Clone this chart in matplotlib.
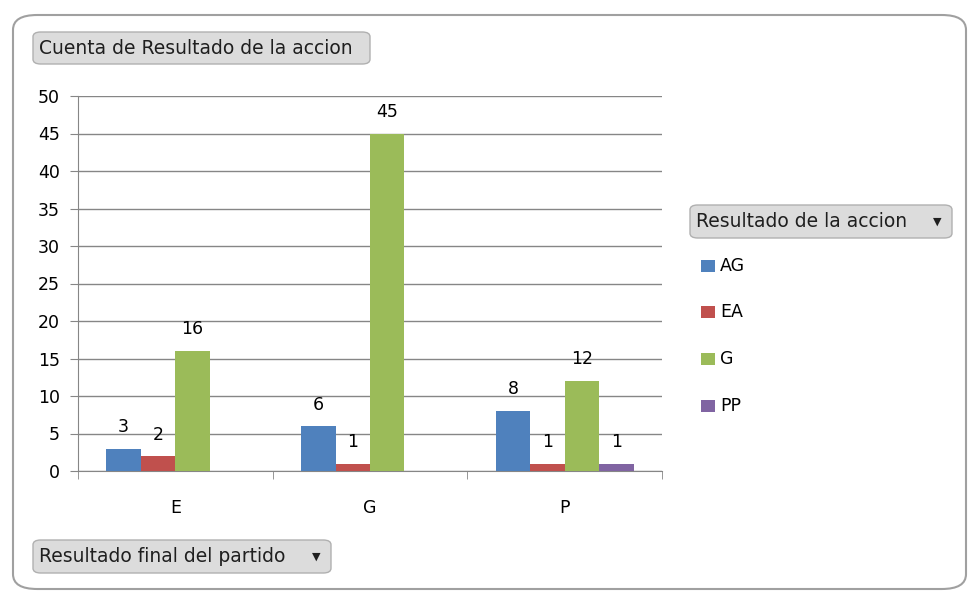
import numpy as np
import matplotlib
matplotlib.use("Agg")
import matplotlib.pyplot as plt
from matplotlib.patches import FancyBboxPatch, Rectangle

plt.rcParams['font.family'] = ['DejaVu Sans']

# data
categories = ["E", "G", "P"]
series = ["AG", "EA", "G", "PP"]
AG = [3, 6, 8]
EA = [2, 1, 1]
G = [16, 45, 12]
PP = [None, None, 1]
colors = ["#4F81BD", "#C0504D", "#9BBB59", "#8064A2"]
yticks = list(range(0, 55, 5))

W, H = 971, 594
fig = plt.figure(figsize=(W / 100, H / 100), dpi=100)

def fx(px):
    return px / W

def fy(py):
    return 1 - py / H

FS = 12.5
FSB = 13.5

# outer chart frame
frame = FancyBboxPatch((fx(13), fy(589)), fx(953), fy(15) - fy(589),
                       boxstyle="round,pad=0,rounding_size=0.025",
                       transform=fig.transFigure, facecolor="white",
                       edgecolor="#a0a0a0", linewidth=1.5, zorder=0)
fig.patches.append(frame)

ax = fig.add_axes([fx(78), fy(471), fx(662) - fx(78), fy(96) - fy(471)])
ax.set_zorder(2)
ax.set_facecolor("none")

x = np.arange(len(categories))
w = 0.177
vals = [AG, EA, G, PP]
for i, (name, v, c) in enumerate(zip(series, vals, colors)):
    pos = x + (i - 1.5) * w
    for p, val in zip(pos, v):
        if val is None:
            continue
        ax.bar(p, val, width=w, color=c, zorder=3)
        ax.annotate(str(val), (p, val), xytext=(0, 9), textcoords="offset points",
                    ha="center", va="bottom", fontsize=FS, color="black", zorder=4)

ax.set_xlim(-0.5, 2.5)
ax.set_ylim(0, 50)
ax.set_yticks(yticks)
ax.set_yticklabels([str(t) for t in yticks], fontsize=FS)
ax.yaxis.grid(True, color="#868686", linewidth=1, zorder=0)
ax.set_axisbelow(True)
ax.set_xticks(x)
ax.set_xticklabels(categories, fontsize=FS)
ax.set_xticks([-0.5, 0.5, 1.5, 2.5], minor=True)
ax.tick_params(axis="x", which="major", length=0, pad=20)
ax.tick_params(axis="x", which="minor", length=6, color="#868686", direction="out")
ax.tick_params(axis="y", length=6, color="#868686", direction="out", pad=7)
for s in ["top", "right"]:
    ax.spines[s].set_visible(False)
for s in ["left", "bottom"]:
    ax.spines[s].set_color("#868686")

# field buttons
def button(x0, y0, x1, y1, label, arrow=False):
    b = FancyBboxPatch((fx(x0), fy(y1)), fx(x1 - x0), fy(y0) - fy(y1),
                       boxstyle="round,pad=0,rounding_size=0.008",
                       transform=fig.transFigure, facecolor="#dcdcdc",
                       edgecolor="#b0b0b0", linewidth=1, zorder=1)
    fig.patches.append(b)
    fig.text(fx(x0 + 6), fy((y0 + y1) / 2), label, ha="left", va="center",
             fontsize=FSB, color="#1f1f1f")
    if arrow:
        fig.text(fx(x1 - 15), fy((y0 + y1) / 2), "▼", ha="center", va="center",
                 fontsize=8, color="#202020")

button(33, 32, 370, 64, "Cuenta de Resultado de la accion")
button(690, 205, 952, 238, "Resultado de la accion", arrow=True)
button(33, 540, 331, 573, "Resultado final del partido", arrow=True)

# legend
leg_y = [266, 312, 359, 406]
for name, c, yy in zip(series, colors, leg_y):
    fig.patches.append(Rectangle((fx(701), fy(yy + 6)), fx(14), fy(yy - 6) - fy(yy + 6),
                                 transform=fig.transFigure, facecolor=c,
                                 edgecolor="none"))
    fig.text(fx(720), fy(yy), name, ha="left", va="center", fontsize=FS,
             color="black")

fig.savefig("out.png", dpi=100)
